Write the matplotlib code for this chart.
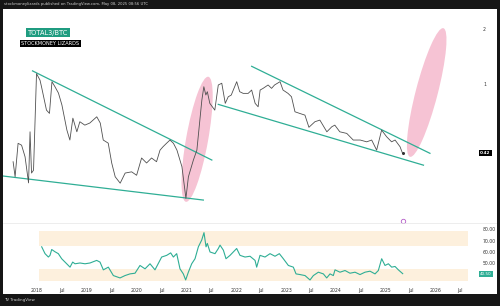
import numpy as np
import matplotlib.pyplot as plt
from matplotlib.patches import Ellipse, Rectangle
from matplotlib.transforms import IdentityTransform
from matplotlib.lines import Line2D

# TOTAL3/BTC weekly close (decimal year, ratio)
price_t = [2017.52, 2017.56, 2017.59, 2017.62, 2017.69, 2017.76, 2017.83, 2017.86, 2017.89, 2017.93,
           2017.99, 2018.06, 2018.09, 2018.19, 2018.25, 2018.30, 2018.36, 2018.43, 2018.50, 2018.60,
           2018.66, 2018.72, 2018.80, 2018.86, 2018.96, 2019.06, 2019.20, 2019.27, 2019.33, 2019.43,
           2019.50, 2019.57, 2019.67, 2019.77, 2019.90, 2020.00, 2020.10, 2020.20, 2020.30, 2020.40,
           2020.47, 2020.53, 2020.60, 2020.67, 2020.74, 2020.81, 2020.91, 2020.99, 2021.04, 2021.14,
           2021.21, 2021.27, 2021.31, 2021.35, 2021.39, 2021.42, 2021.47, 2021.57, 2021.64, 2021.71,
           2021.78, 2021.84, 2021.90, 2022.01, 2022.07, 2022.14, 2022.24, 2022.31, 2022.38, 2022.44,
           2022.48, 2022.54, 2022.64, 2022.71, 2022.77, 2022.88, 2022.94, 2023.04, 2023.11, 2023.18,
           2023.28, 2023.38, 2023.46, 2023.58, 2023.68, 2023.82, 2023.92, 2023.98, 2024.08, 2024.22,
           2024.35, 2024.49, 2024.62, 2024.72, 2024.82, 2024.92, 2025.02, 2025.12, 2025.19, 2025.29,
           2025.34]
price_v = [0.376, 0.311, 0.384, 0.474, 0.463, 0.400, 0.288, 0.548, 0.326, 0.338,
           1.14, 1.05, 0.967, 0.720, 0.691, 1.03, 0.967, 0.893, 0.768, 0.560,
           0.494, 0.651, 0.548, 0.622, 0.596, 0.612, 0.662, 0.612, 0.494, 0.475,
           0.370, 0.311, 0.287, 0.326, 0.331, 0.317, 0.394, 0.370, 0.394, 0.376,
           0.435, 0.454, 0.474, 0.494, 0.474, 0.435, 0.353, 0.237, 0.311, 0.384,
           0.435, 0.635, 0.817, 0.967, 0.871, 0.908, 0.784, 0.720, 0.988, 1.01,
           0.784, 0.852, 0.870, 1.03, 0.908, 0.889, 0.889, 0.927, 0.784, 0.751,
           0.927, 0.947, 0.988, 0.947, 0.988, 1.03, 0.927, 0.889, 0.852, 0.705,
           0.690, 0.676, 0.580, 0.622, 0.635, 0.548, 0.584, 0.596, 0.548, 0.537,
           0.494, 0.494, 0.483, 0.494, 0.435, 0.560, 0.515, 0.483, 0.494, 0.454,
           0.418]

# RSI pane
rsi_t = [2018.094, 2018.161, 2018.228, 2018.261, 2018.295, 2018.361, 2018.428, 2018.495, 2018.596, 2018.663,
         2018.716, 2018.763, 2018.863, 2018.964, 2019.064, 2019.198, 2019.265, 2019.332, 2019.432, 2019.533,
         2019.667, 2019.767, 2019.867, 2019.968, 2020.068, 2020.169, 2020.269, 2020.369, 2020.503, 2020.604,
         2020.684, 2020.738, 2020.805, 2020.871, 2020.938, 2020.985, 2021.039, 2021.106, 2021.173, 2021.240,
         2021.307, 2021.353, 2021.394, 2021.420, 2021.474, 2021.574, 2021.641, 2021.675, 2021.742, 2021.795,
         2021.876, 2022.009, 2022.076, 2022.177, 2022.277, 2022.378, 2022.411, 2022.478, 2022.578, 2022.679,
         2022.779, 2022.866, 2022.946, 2023.047, 2023.147, 2023.201, 2023.281, 2023.382, 2023.482, 2023.549,
         2023.649, 2023.750, 2023.817, 2023.884, 2023.950, 2023.984, 2024.084, 2024.185, 2024.285, 2024.386,
         2024.486, 2024.586, 2024.687, 2024.787, 2024.854, 2024.921, 2024.988, 2025.055, 2025.122, 2025.189,
         2025.256, 2025.343]
rsi_v = [64.4, 58.3, 55.3, 56.8, 62.0, 60.0, 58.3, 53.8, 49.3, 46.3,
         50.8, 49.3, 50.0, 49.3, 50.0, 52.3, 50.8, 43.9, 46.3, 38.8,
         36.7, 38.8, 40.3, 40.9, 47.8, 44.8, 49.3, 43.9, 55.3, 56.8,
         59.0, 55.3, 58.3, 44.8, 40.3, 34.9, 41.8, 49.3, 53.8, 64.4,
         70.4, 77.0, 64.4, 67.4, 59.8, 58.3, 62.9, 65.9, 61.4, 53.8,
         56.8, 62.9, 56.8, 55.3, 56.0, 52.3, 46.3, 56.8, 55.3, 58.3,
         56.0, 58.3, 53.8, 47.8, 46.3, 40.3, 39.7, 38.8, 34.9, 38.8,
         41.8, 40.3, 36.7, 40.3, 38.8, 43.9, 41.8, 43.3, 40.9, 41.8,
         39.7, 41.8, 42.7, 40.3, 43.3, 53.8, 47.8, 49.3, 46.3, 46.9,
         43.9, 40.5]
rsi_bands = [(65.1, 78.2), (34.3, 44.7)]
band_t = (2018.04, 2026.65)

# trend lines (t0, v0, t1, v1)
trend_lines = [(2017.91, 1.18, 2021.51, 0.384),
               (2017.32, 0.314, 2021.34, 0.232),
               (2022.31, 1.25, 2025.89, 0.418),
               (2021.64, 0.774, 2025.76, 0.360)]
# highlight ellipses: top end, bottom end, minor width (px)
ellipses = [((2021.44, 1.096), (2020.99, 0.227), 22),
            ((2026.16, 2.02), (2025.49, 0.40), 22)]

tick_pos = np.arange(2018, 2026.6, 0.5)
tick_lab = []
for y in range(2018, 2027):
    tick_lab += [str(y), 'Jul']

last_price = 0.42
last_rsi = 40.50

green = '#2fae95'
dark = '#161616'

fig = plt.figure(figsize=(5, 3.06), dpi=100, facecolor='white')
W, H = 500.0, 306.0

ax = fig.add_axes([3 / W, 1 - 222 / H, 473 / W, 212 / H])
ax2 = fig.add_axes([3 / W, 1 - 284 / H, 473 / W, 60 / H])
x0, x1 = 2017.317, 2026.815

## main pane
ax.set_yscale('log')
ax.set_xlim(x0, x1)
ax.set_ylim(0.176, 2.54)
ax.plot(price_t, price_v, color='#505050', lw=0.6, zorder=3)
ax.plot(price_t[-1], price_v[-1], 'o', color='#333333', ms=1.2, zorder=4)
for t0, v0, t1, v1 in trend_lines:
    ax.plot([t0, t1], [v0, v1], color=green, lw=0.9, zorder=2)

for top, bot, wpx in ellipses:
    p1 = ax.transData.transform(top)
    p2 = ax.transData.transform(bot)
    c = (p1 + p2) / 2
    d = p1 - p2
    ang = np.degrees(np.arctan2(d[1], d[0])) - 90
    e = Ellipse(c, wpx, np.hypot(*d), angle=ang, transform=IdentityTransform(),
                facecolor='#f6c3d4', edgecolor='none', zorder=1)
    ax.add_patch(e)

ax.set_yticks([1, 2])
ax.set_yticklabels(['1', '2'])
ax.minorticks_off()
ax.yaxis.tick_right()
ax.tick_params(axis='y', length=0, pad=5, labelsize=3.3, labelcolor='#333333')
ax.set_xticks([])
for s in ax.spines.values():
    s.set_visible(False)
ax.text(1 + 4 / 473, last_price, f'{last_price:.2f}', transform=ax.get_yaxis_transform(),
        fontsize=3, color='white', va='center', ha='left', fontweight='bold',
        bbox=dict(facecolor='black', edgecolor='none', pad=0.8))
ax.plot([2025.34], [0.006], 'o', ms=3.2, mfc='white', mec='#b45cc8', mew=0.6,
        transform=ax.get_xaxis_transform(), clip_on=False, zorder=5)

## RSI pane
ax2.set_xlim(x0, x1)
ax2.set_ylim(31.3, 84.7)
for lo, hi in rsi_bands:
    ax2.fill_between(band_t, lo, hi, color='#fdf0dd', lw=0, zorder=1)
ax2.plot(rsi_t, rsi_v, color=green, lw=0.8, zorder=3)
ax2.set_yticks([50, 60, 70, 80])
ax2.set_yticklabels(['50.00', '60.00', '70.00', '80.00'])
ax2.yaxis.tick_right()
ax2.tick_params(axis='y', length=0, pad=5, labelsize=3.3, labelcolor='#333333')
ax2.set_xticks(tick_pos)
ax2.set_xticklabels(tick_lab)
ax2.tick_params(axis='x', length=0, pad=3, labelsize=3.3, labelcolor='#333333')
for s in ax2.spines.values():
    s.set_visible(False)
ax2.text(1 + 4 / 473, last_rsi, f'{last_rsi:.2f}', transform=ax2.get_yaxis_transform(),
         fontsize=3, color='white', va='center', ha='left',
         bbox=dict(facecolor=green, edgecolor='none', pad=0.8))

## frame, separators, captions
fig.add_artist(Line2D([3 / W, 497 / W], [1 - 223 / H] * 2, color='#e6e6e6', lw=0.5))
for r in [(0, 1 - 9 / H, 1, 9 / H), (0, 0, 1, 12 / H), (0, 0, 3 / W, 1), (497 / W, 0, 3 / W, 1)]:
    fig.add_artist(Rectangle(r[:2], r[2], r[3], transform=fig.transFigure,
                             facecolor=dark, edgecolor='none', zorder=10))
fig.text(4 / W, 1 - 4.5 / H, 'stockmoneylizards published on TradingView.com, May 08, 2025 08:56 UTC',
         fontsize=2.7, color='#d0d0d0', va='center', zorder=11)
fig.text(4 / W, 6 / H, 'TV TradingView', fontsize=2.9, color='#d0d0d0', va='center', zorder=11)
fig.text(28 / W, 1 - 32.5 / H, 'TOTAL3/BTC', fontsize=4.8, color='white', va='center',
         bbox=dict(facecolor='#1f9c80', edgecolor='none', pad=1.2))
fig.text(21 / W, 1 - 43.5 / H, 'STOCKMONEY LIZARDS', fontsize=3.6, color='white', va='center',
         bbox=dict(facecolor='black', edgecolor='none', pad=1.0))

fig.savefig('out.png', dpi=100, facecolor=fig.get_facecolor())
